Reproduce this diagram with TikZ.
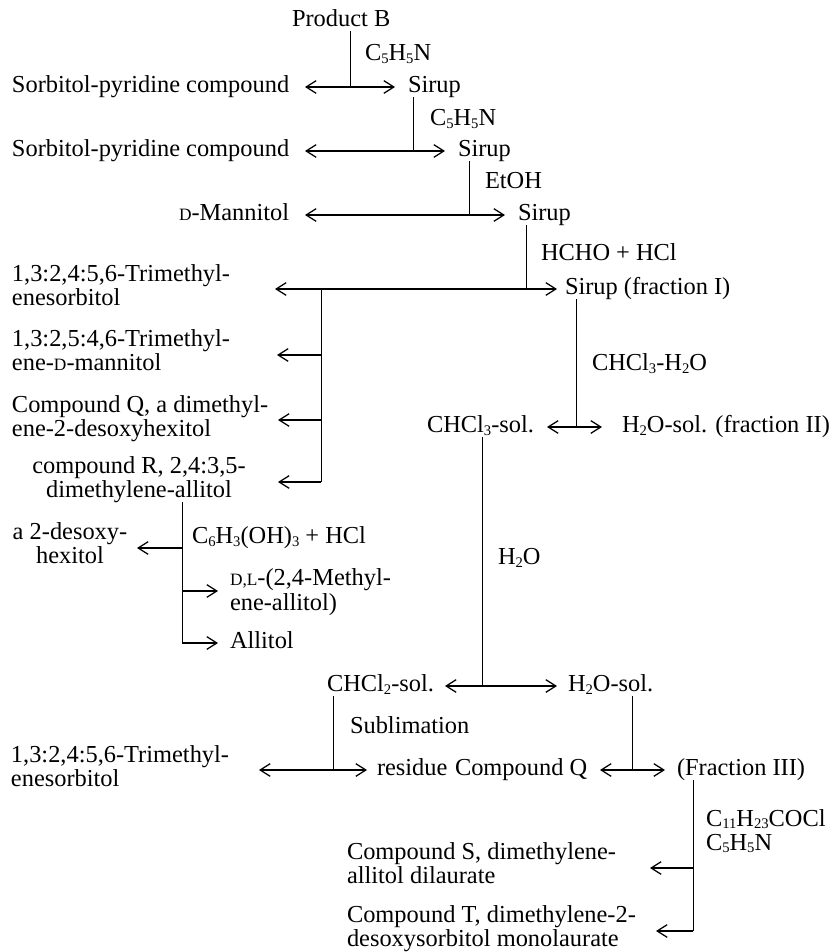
\documentclass[tikz,border=0pt]{standalone}
\usepackage{fontspec}
\setmainfont{Liberation Serif}
\usetikzlibrary{arrows.meta}
\newcommand\myfs{\fontsize{18.3}{15}\selectfont}
\newcommand\smc[1]{{\fontsize{13}{13}\selectfont #1}}
\newcommand\sub[1]{\raisebox{-0.25ex}{\fontsize{11}{11}\selectfont #1}}
\begin{document}
\begin{tikzpicture}[x=0.75pt,y=-0.75pt,
  tx/.style={inner sep=0pt,outer sep=0pt,font=\myfs,text height=12pt,text depth=3.5pt,anchor=west},
  ml/.style={inner sep=0pt,outer sep=0pt,font=\myfs,align=left,anchor=base west},
  mc/.style={inner sep=0pt,outer sep=0pt,font=\myfs,align=center,anchor=base},
  vl/.style={line width=0.55pt},
  dbl/.style={line width=0.95pt,{Straight Barb[length=7.5pt,width=9.5pt]}-{Straight Barb[length=7.5pt,width=9.5pt]}},
  sarr/.style={line width=0.95pt,-{Straight Barb[length=7.5pt,width=9.5pt]}}]
\fill[white] (0,0) rectangle (836,952);
\useasboundingbox (0,0) rectangle (836,952);

% ---------- top cascade ----------
\node[tx] (prodB) at (292,21) {Product B};
\node[tx] (rA) at (365,55) {C\sub{5}H\sub{5}N};
\node[tx] (sp1) at (12,87) {Sorbitol-pyridine compound};
\node[tx] (s1) at (408,87) {Sirup};
\node[tx] (rB) at (430,120) {C\sub{5}H\sub{5}N};
\node[tx] (sp2) at (12,151) {Sorbitol-pyridine compound};
\node[tx] (s2) at (458,151) {Sirup};
\node[tx] (rC) at (485,183) {EtOH};
\node[tx] (mann) at (179,215) {\smc{D}-Mannitol};
\node[tx] (s3) at (518,215) {Sirup};
\node[tx] (rD) at (541,255) {HCHO + HCl};
\node[ml] (tri1) at (12,305) {1,3:2,4:5,6-Trimethyl-\\enesorbitol};
\node[tx] (sf1) at (565,289) {Sirup (fraction I)};

\coordinate (J1) at (350,87);  \coordinate (L1) at (305,87);  \coordinate (R1) at (395,87);
\coordinate (J2) at (413,151); \coordinate (L2) at (305,151); \coordinate (R2) at (445,151);
\coordinate (J3) at (469,215); \coordinate (L3) at (305,215); \coordinate (R3) at (505,215);
\coordinate (J4) at (526,289); \coordinate (L4) at (275,289); \coordinate (R4) at (557,289);

\draw[vl] (prodB.south -| J1) -- (J1);
\draw[dbl] (L1) -- (R1);
\draw[vl] (s1.south -| J2) -- (J2);
\draw[dbl] (L2) -- (R2);
\draw[vl] (s2.south -| J3) -- (J3);
\draw[dbl] (L3) -- (R3);
\draw[vl] (s3.south -| J4) -- (J4);
\draw[dbl] (L4) -- (R4);

% ---------- left branch ----------
\node[ml] (tri2) at (12,370) {1,3:2,5:4,6-Trimethyl-\\ene-\smc{D}-mannitol};
\node[ml] (cq) at (12,436) {Compound Q, a dimethyl-\\ene-2-desoxyhexitol};
\node[mc] (cr) at (139,497) {compound R, 2,4:3,5-\\dimethylene-allitol};

\coordinate (B1) at (321,289);
\coordinate (B2) at (321,355); \coordinate (T2) at (277,355);
\coordinate (B3) at (321,420); \coordinate (T3) at (278,420);
\coordinate (B4) at (321,482); \coordinate (T4) at (278,482);
\draw[vl] (B1) -- (B4);
\draw[sarr] (B2) -- (T2);
\draw[sarr] (B3) -- (T3);
\draw[sarr] (B4) -- (T4);

\node[mc] (des) at (70,563) {a 2-desoxy-\\hexitol};
\node[tx] (rG) at (192,538) {C\sub{6}H\sub{3}(OH)\sub{3} + HCl};
\node[ml] (dl) at (230,610) {\smc{D,L}-(2,4-Methyl-\\[1pt]ene-allitol)};
\node[tx] (allit) at (230,643) {Allitol};

\coordinate (C1) at (182,548); \coordinate (U1) at (137,548);
\coordinate (C2) at (182,591); \coordinate (U2) at (218,591);
\coordinate (C3) at (182,643); \coordinate (U3) at (218,643);
\draw[vl] (cr.south -| C1) -- (C3);
\draw[sarr] (C1) -- (U1);
\draw[sarr] (C2) -- (U2);
\draw[sarr] (C3) -- (U3);

% ---------- right column ----------
\node[tx] (rE) at (592,365) {CHCl\sub{3}-H\sub{2}O};
\node[tx] (chs) at (427,427) {CHCl\sub{3}-sol.};
\node[tx] (hs1) at (622,427) {H\sub{2}O-sol. (fraction II)};
\coordinate (J5) at (576,427); \coordinate (L5) at (547,427); \coordinate (R5) at (602,427);
\draw[vl] (sf1.south -| J5) -- (J5);
\draw[dbl] (L5) -- (R5);

\node[tx] (rF) at (498,559) {H\sub{2}O};
\node[tx] (ch2) at (327,686) {CHCl\sub{2}-sol.};
\node[tx] (hs2) at (568,686) {H\sub{2}O-sol.};
\coordinate (J6) at (482,686); \coordinate (L6) at (445,686); \coordinate (R6) at (557,686);
\draw[vl] (chs.south -| J6) -- (J6);
\draw[dbl] (L6) -- (R6);

\node[tx] (rH) at (350,728) {Sublimation};
\node[ml] (tri3) at (11,786) {1,3:2,4:5,6-Trimethyl-\\enesorbitol};
\node[tx] (res) at (377,770) {residue};
\node[tx] (cq2) at (455,770) {Compound Q};
\node[tx] (fr3) at (677,770) {(Fraction III)};
\coordinate (J7) at (333,770); \coordinate (L7) at (259,770); \coordinate (R7) at (367,770);
\coordinate (J8) at (632,770); \coordinate (L8) at (600,770); \coordinate (R8) at (665,770);
\draw[vl] (ch2.south -| J7) -- (J7);
\draw[dbl] (L7) -- (R7);
\draw[vl] (hs2.south -| J8) -- (J8);
\draw[dbl] (L8) -- (R8);

\node[ml] (rI) at (706,850) {C\sub{11}H\sub{23}COCl\\[3pt]C\sub{5}H\sub{5}N};
\node[ml] (cs) at (347,883) {Compound S, dimethylene-\\allitol dilaurate};
\node[ml] (ct) at (347,946) {Compound T, dimethylene-2-\\desoxysorbitol monolaurate};
\coordinate (K1) at (693,868); \coordinate (V1) at (650,868);
\coordinate (K2) at (693,931); \coordinate (V2) at (656,931);
\draw[vl] (fr3.south -| K1) -- (K2);
\draw[sarr] (K1) -- (V1);
\draw[sarr] (K2) -- (V2);
\end{tikzpicture}
\end{document}
